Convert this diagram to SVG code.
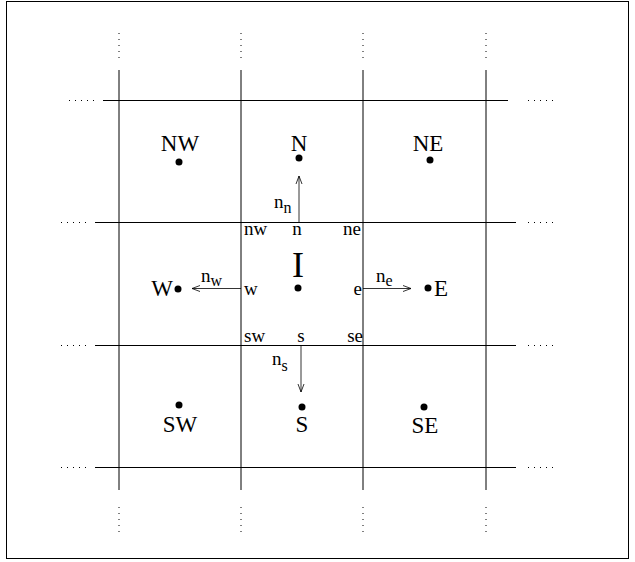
<svg xmlns="http://www.w3.org/2000/svg" width="635" height="562" viewBox="0 0 635 562">
<style>
.g{stroke:#000;stroke-width:1;fill:none}
.d{stroke:#000;stroke-width:1;fill:none;stroke-dasharray:1 5}
.a{stroke:#000;stroke-width:0.8;fill:none}
text{font-family:"Liberation Serif","Times New Roman",serif;fill:#000}
.L{font-size:23px;text-anchor:middle}
.s{font-size:19px}
.sub{font-size:16px}
</style>
<defs>
<marker id="ah" markerWidth="10" markerHeight="8" refX="9" refY="4" orient="auto" markerUnits="userSpaceOnUse">
<path d="M1,1 L9,4 L1,7" fill="none" stroke="#000" stroke-width="0.8"/>
</marker>
</defs>
<rect x="6.5" y="1.5" width="622" height="557" fill="none" stroke="#000" stroke-width="1"/>
<g id="grid">
<line class="g" x1="103" y1="100.5" x2="508" y2="100.5"/>
<line class="g" x1="95" y1="222.5" x2="516" y2="222.5"/>
<line class="g" x1="95" y1="345.5" x2="516" y2="345.5"/>
<line class="g" x1="95" y1="467.5" x2="516" y2="467.5"/>
<line class="g" x1="119" y1="70" x2="119" y2="490"/>
<line class="g" x1="241" y1="70" x2="241" y2="490"/>
<line class="g" x1="363" y1="70" x2="363" y2="490"/>
<line class="g" x1="486" y1="70" x2="486" y2="490"/>
</g>
<g id="dots">
<line class="d" x1="69" y1="100.5" x2="95" y2="100.5"/>
<line class="d" x1="528" y1="100.5" x2="554" y2="100.5"/>
<line class="d" x1="61" y1="222.5" x2="87" y2="222.5"/>
<line class="d" x1="528" y1="222.5" x2="554" y2="222.5"/>
<line class="d" x1="61" y1="345.5" x2="87" y2="345.5"/>
<line class="d" x1="528" y1="345.5" x2="554" y2="345.5"/>
<line class="d" x1="61" y1="467.5" x2="87" y2="467.5"/>
<line class="d" x1="528" y1="467.5" x2="554" y2="467.5"/>
<line class="d" x1="119" y1="33" x2="119" y2="59"/>
<line class="d" x1="241" y1="33" x2="241" y2="59"/>
<line class="d" x1="363" y1="33" x2="363" y2="59"/>
<line class="d" x1="486" y1="33" x2="486" y2="59"/>
<line class="d" x1="119" y1="507" x2="119" y2="533"/>
<line class="d" x1="241" y1="507" x2="241" y2="533"/>
<line class="d" x1="363" y1="507" x2="363" y2="533"/>
<line class="d" x1="486" y1="507" x2="486" y2="533"/>
</g>
<g id="NW"><circle cx="179" cy="162" r="3.5"/><text class="L" x="180" y="151">NW</text></g>
<g id="N"><circle cx="299" cy="158" r="3.5"/><text class="L" x="299" y="151">N</text></g>
<g id="NE"><circle cx="430" cy="160" r="3.5"/><text class="L" x="428" y="151">NE</text></g>
<g id="W"><circle cx="178" cy="289" r="3.5"/><text class="L" x="162" y="296">W</text></g>
<g id="I"><circle cx="298" cy="288" r="3.5"/><text class="L" x="298" y="277" style="font-size:36px">I</text></g>
<g id="E"><circle cx="428" cy="288" r="3.5"/><text class="L" x="441" y="296">E</text></g>
<g id="SW"><circle cx="179" cy="405" r="3.5"/><text class="L" x="180" y="432">SW</text></g>
<g id="S"><circle cx="302" cy="407" r="3.5"/><text class="L" x="302" y="432">S</text></g>
<g id="SE"><circle cx="424" cy="407" r="3.5"/><text class="L" x="425" y="433">SE</text></g>
<g id="faces">
<text class="s" x="244" y="235">nw</text>
<text class="s" x="297" y="235" text-anchor="middle">n</text>
<text class="s" x="361" y="235" text-anchor="end">ne</text>
<text class="s" x="244" y="295">w</text>
<text class="s" x="362" y="295" text-anchor="end">e</text>
<text class="s" x="244" y="342">sw</text>
<text class="s" x="301" y="342" text-anchor="middle">s</text>
<text class="s" x="363" y="342" text-anchor="end">se</text>
</g>
<g id="connectors">
<line class="a" x1="299" y1="222" x2="299" y2="176" marker-end="url(#ah)"/>
<line class="a" x1="241" y1="288.5" x2="192" y2="288.5" marker-end="url(#ah)"/>
<line class="a" x1="363" y1="288.5" x2="411" y2="288.5" marker-end="url(#ah)"/>
<line class="a" x1="301" y1="346" x2="301" y2="392" marker-end="url(#ah)"/>
</g>
<g id="normals">
<text class="s" x="274" y="208">n<tspan class="sub" dy="5">n</tspan></text>
<text class="s" x="201" y="282">n<tspan class="sub" dy="4">w</tspan></text>
<text class="s" x="376" y="282">n<tspan class="sub" dy="4">e</tspan></text>
<text class="s" x="272" y="365">n<tspan class="sub" dy="6">s</tspan></text>
</g>
</svg>
